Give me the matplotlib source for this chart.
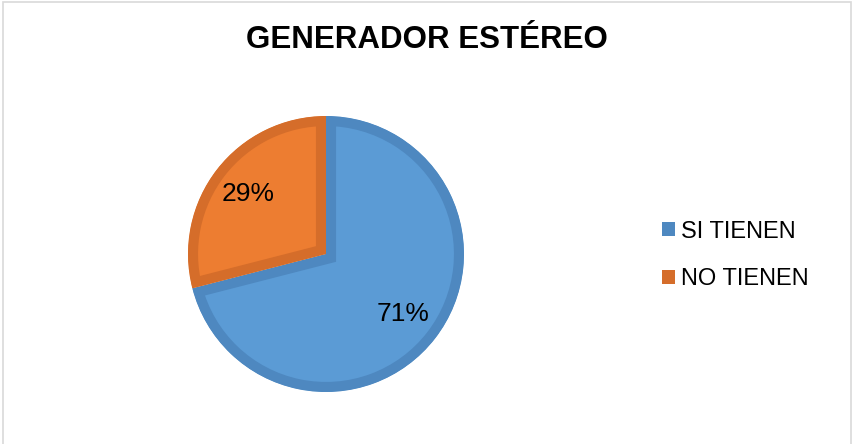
import matplotlib
matplotlib.use("Agg")
import matplotlib.pyplot as plt
from matplotlib.patches import Patch, Rectangle

plt.rcParams['font.family'] = ['Liberation Sans', 'DejaVu Sans']

# data
title = "GENERADOR ESTÉREO"
labels = ["SI TIENEN", "NO TIENEN"]
values = [71, 29]
fill_colors = ["#5B9BD5", "#ED7D31"]
edge_colors = ["#4E88C0", "#D56D2A"]

W, H = 852, 444
fig = plt.figure(figsize=(W / 100, H / 100), dpi=100)

# pie axes: center (326, 254), radius 138 px
cx, cy, r = 326, 254, 138
ax = fig.add_axes([(cx - r) / W, 1 - (cy + r) / H, 2 * r / W, 2 * r / H])

wedges, texts, autotexts = ax.pie(values, colors=fill_colors, startangle=90,
                                  counterclock=False, autopct='%1.0f%%',
                                  pctdistance=0.71, radius=1.0,
                                  textprops={'fontsize': 19, 'color': 'black'})
# inset darker border on each slice (edge clipped to the slice itself)
for w, ec in zip(wedges, edge_colors):
    w.set_edgecolor(ec)
    w.set_linewidth(14.5)
    w.set_clip_on(True)
    w.set_clip_path(w)
ax.set_xlim(-1, 1)
ax.set_ylim(-1, 1)
ax.set_aspect('equal')
ax.axis('off')

fig.text(427 / W, 1 - 40 / H, title, ha='center', va='center',
         fontsize=22.5, fontweight='bold')

handles = [Patch(facecolor=c, edgecolor='none') for c in edge_colors]
fig.legend(handles, labels, loc='center left',
           bbox_to_anchor=(662 / W, 1 - 255.5 / H), frameon=False,
           fontsize=17, handlelength=0.55, handleheight=0.55,
           handletextpad=0.25, labelspacing=1.1, borderpad=0,
           borderaxespad=0)

# chart area border
fig.patches.append(Rectangle((2.5 / W, -0.01), (W - 4) / W, 1 - 2.5 / H + 0.01,
                             transform=fig.transFigure, fill=False,
                             edgecolor='#D9D9D9', linewidth=1.2))

fig.savefig("out.png", dpi=100)
